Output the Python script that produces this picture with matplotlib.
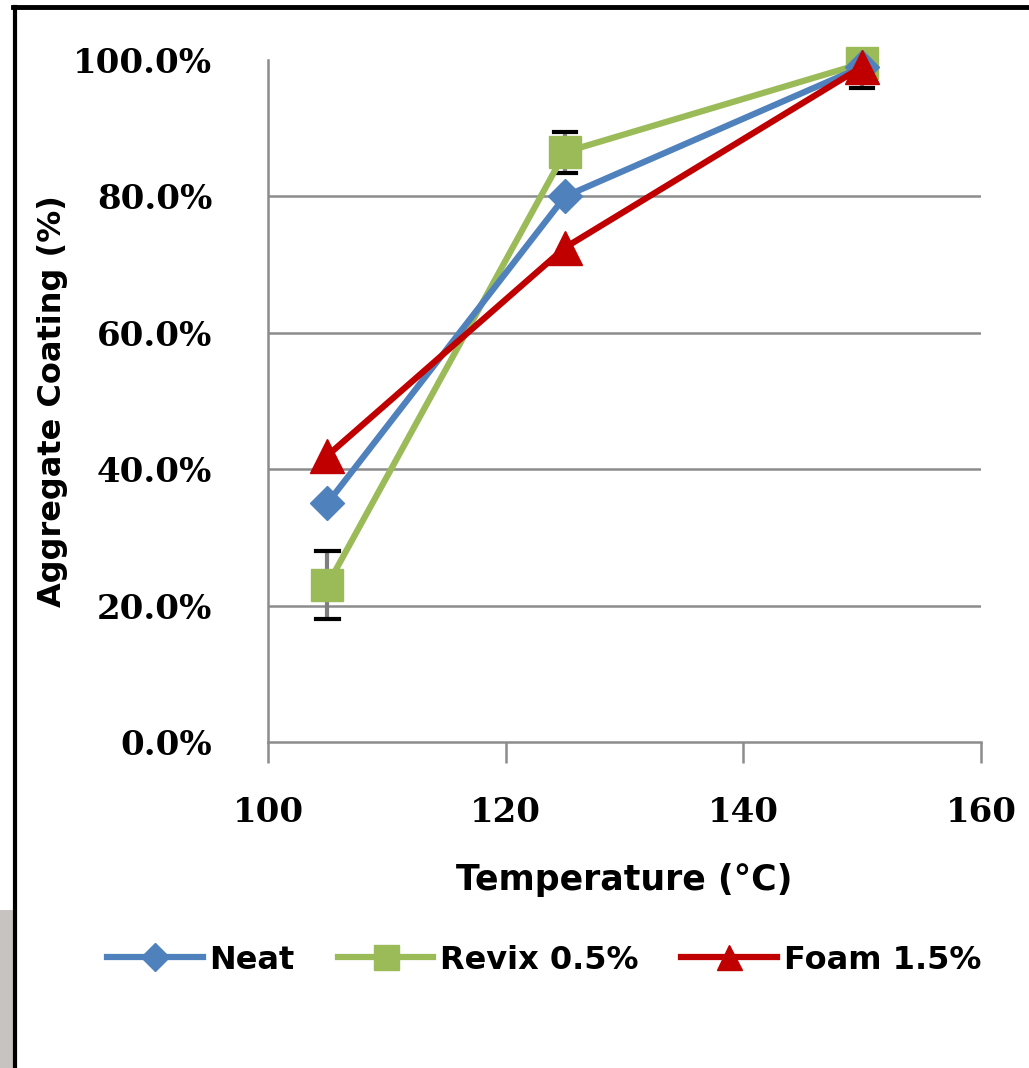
import matplotlib.pyplot as plt
from matplotlib.lines import Line2D
from matplotlib.ticker import FuncFormatter

# data
temps = [105, 125, 150]
neat = [35.0, 80.0, 99.0]
revix = [23.0, 86.5, 99.5]
foam = [42.0, 72.5, 99.0]
revix_err = [5.0, 3.0, 3.6]
series_names = ["Neat", "Revix 0.5%", "Foam 1.5%"]
x_ticks = [100, 120, 140, 160]
y_ticks = [0, 20, 40, 60, 80, 100]
grid_levels = [20, 40, 60, 80]

fig = plt.figure(figsize=(10.29, 10.68), dpi=100)
ax = fig.add_axes([268/1029, 1 - 742/1068, (981-268)/1029, (742-60)/1068])

blue = "#4F81BD"
green = "#9BBB59"
red = "#C00000"
gray = "#8c8c8c"

# error bars (gray stems, black caps), clipped to the plot area
ax.errorbar(temps, revix, yerr=revix_err, fmt="none", ecolor="#7f7f7f",
            elinewidth=3, capsize=0, zorder=1)
for t, v, e in zip(temps, revix, revix_err):
    for yy in (v - e, v + e):
        if yy <= 100:
            ax.plot([t - 0.95, t + 0.95], [yy, yy], color="black", lw=3, zorder=1)

ax.plot(temps, neat, color=blue, lw=4.5, marker="D", ms=17, clip_on=False, zorder=3)
ax.plot(temps, revix, color=green, lw=4.5, marker="s", ms=23, clip_on=False, zorder=2)
ax.plot(temps, foam, color=red, lw=4.5, marker="^", ms=24, clip_on=False, zorder=4)

ax.set_xlim(100, 160)
ax.set_ylim(0, 100)
ax.set_xticks(x_ticks)
ax.set_yticks(y_ticks)
ax.yaxis.set_major_formatter(FuncFormatter(lambda v, p: f"{v:.1f}%"))

for g in grid_levels:
    ax.axhline(g, color=gray, lw=1.8, zorder=0)
for s in ["top", "right"]:
    ax.spines[s].set_visible(False)
for s in ["left", "bottom"]:
    ax.spines[s].set_color(gray)
    ax.spines[s].set_linewidth(1.8)
ax.tick_params(axis="x", direction="out", length=15, width=1.8, color=gray, pad=24)
ax.tick_params(axis="y", length=0, pad=40)
for lab in ax.get_xticklabels() + ax.get_yticklabels():
    lab.set_fontfamily("DejaVu Serif")
    lab.set_fontweight("bold")
    lab.set_fontsize(24.5)

ax.set_xlabel("Temperature (°C)", fontsize=25, fontweight="bold",
              fontfamily="DejaVu Sans", labelpad=24)
ax.set_ylabel("Aggregate Coating (%)", fontsize=23, fontweight="bold",
              fontfamily="DejaVu Sans", labelpad=4)

handles = [
    Line2D([], [], color=blue, lw=4.5, marker="D", ms=14),
    Line2D([], [], color=green, lw=4.5, marker="s", ms=18),
    Line2D([], [], color=red, lw=4.5, marker="^", ms=18),
]
ax.legend(handles, series_names, loc="upper left", bbox_to_anchor=((107-268)/713, -0.297),
          ncol=3, frameon=False, borderpad=0, borderaxespad=0,
          prop={"family": "DejaVu Sans", "weight": "bold", "size": 23},
          handlelength=3.0, handletextpad=0.2, columnspacing=1.35)

# frame lines and gray patch from the screenshot
fig.add_artist(plt.Line2D([13/1029, 1], [1 - 7/1068, 1 - 7/1068], color="black", lw=3.5))
fig.add_artist(plt.Line2D([14.5/1029, 14.5/1029], [0, 1 - 7/1068], color="black", lw=3))
fig.add_artist(plt.Rectangle((0, 0), 13/1029, 1 - 910/1068, color="#C6C3C0", lw=0))

fig.savefig("out.png", dpi=100)
